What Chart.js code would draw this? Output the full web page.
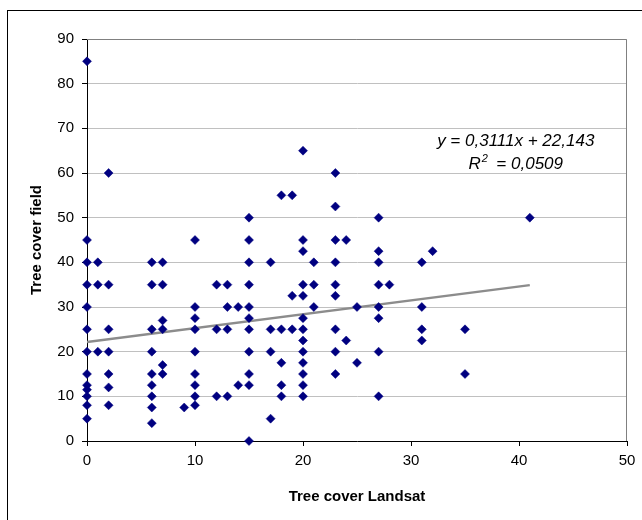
<!DOCTYPE html>
<html lang="en">
<head>
<meta charset="UTF-8">
<title>Tree cover</title>
<script src="https://cdn.jsdelivr.net/npm/chart.js@4.4.0/dist/chart.umd.min.js"></script>
<style>
  html, body { margin: 0; padding: 0; background: #fff; }
  #wrap { width: 642px; height: 520px; }
</style>
</head>
<body>
<div id="wrap"><canvas id="myChart" width="642" height="520"></canvas></div>
<script>
// Tree cover Landsat (x) vs Tree cover field (y)
const landsat = [
  0, 0, 0, 0, 0, 0, 0, 0, 0, 0, 0, 0, 0,
  1, 1, 1,
  2, 2, 2, 2, 2, 2, 2,
  6, 6, 6, 6, 6, 6, 6, 6, 6,
  7, 7, 7, 7, 7, 7,
  9,
  10, 10, 10, 10, 10, 10, 10, 10, 10,
  12, 12, 12,
  13, 13, 13, 13,
  14, 14,
  15, 15, 15, 15, 15, 15, 15, 15, 15, 15, 15,
  17, 17, 17, 17,
  18, 18, 18, 18, 18,
  19, 19, 19,
  20, 20, 20, 20, 20, 20, 20, 20, 20, 20, 20, 20, 20,
  21, 21, 21,
  23, 23, 23, 23, 23, 23, 23, 23, 23,
  24, 24,
  25, 25,
  27, 27, 27, 27, 27, 27, 27, 27,
  28,
  31, 31, 31, 31,
  32,
  35, 35,
  41
];
const field = [
  85, 45, 40, 35, 30, 25, 20, 15, 12.5, 11.5, 10, 8, 5,
  40, 35, 20,
  60, 35, 25, 20, 15, 12, 8,
  40, 35, 25, 20, 15, 12.5, 10, 7.5, 4,
  40, 35, 27, 25, 17, 15,
  7.5,
  45, 30, 27.5, 25, 20, 15, 12.5, 10, 8,
  35, 25, 10,
  35, 30, 25, 10,
  30, 12.5,
  50, 45, 40, 35, 30, 27.5, 25, 20, 15, 12.5, 0,
  40, 25, 20, 5,
  55, 25, 17.5, 12.5, 10,
  55, 32.5, 25,
  65, 45, 42.5, 35, 32.5, 27.5, 25, 22.5, 20, 17.5, 15, 12.5, 10,
  40, 35, 30,
  60, 52.5, 45, 40, 35, 32.5, 25, 20, 15,
  45, 22.5,
  30, 17.5,
  50, 42.5, 40, 35, 30, 27.5, 20, 10,
  35,
  40, 30, 25, 22.5,
  42.5,
  25, 15,
  50
];
// linear trend from the chart
const trendSlope = 0.3111;
const trendIntercept = 22.143;
const rSquared = '0,0509';
const xTicks = [0, 10, 20, 30, 40, 50];
const yTicks = [0, 10, 20, 30, 40, 50, 60, 70, 80, 90];

const points = landsat.map((x, i) => ({ x: x, y: field[i] }));
const xMin = Math.min(...landsat);
const xMax = Math.max(...landsat);
const trend = [
  { x: xMin, y: trendSlope * xMin + trendIntercept },
  { x: xMax, y: trendSlope * xMax + trendIntercept }
];

const FONT = 'Liberation Sans, Arial, sans-serif';

const frame = {
  id: 'frame',
  beforeDraw(chart) {
    const c = chart.ctx;
    c.save();
    c.fillStyle = '#fff';
    c.fillRect(0, 0, chart.width, chart.height);
    c.strokeStyle = '#000';
    c.lineWidth = 1;
    c.strokeRect(7.5, 10.5, chart.width + 20, chart.height + 20);
    c.restore();
  },
  beforeDatasetsDraw(chart) {
    const a = chart.chartArea;
    const c = chart.ctx;
    c.save();
    c.strokeStyle = '#808080';
    c.lineWidth = 1;
    c.beginPath();
    c.moveTo(a.left, a.top + 0.5);
    c.lineTo(a.right - 0.5, a.top + 0.5);
    c.lineTo(a.right - 0.5, a.bottom);
    c.stroke();
    c.restore();
  },
  afterDatasetsDraw(chart) {
    const xs = chart.scales.x, ys = chart.scales.y;
    const c = chart.ctx;
    const cx = xs.getPixelForValue(39.7);
    const y1 = ys.getPixelForValue(66);
    const y2 = y1 + 23;
    const sign = trendIntercept >= 0 ? ' + ' : ' - ';
    const eq = 'y = ' + String(trendSlope).replace('.', ',') + 'x' + sign +
      String(Math.abs(trendIntercept)).replace('.', ',');
    c.save();
    c.fillStyle = '#000';
    c.textBaseline = 'alphabetic';
    c.font = 'italic 17px ' + FONT;
    c.textAlign = 'center';
    c.fillText(eq, cx, y1);
    // R² line
    const a = 'R', b = '2', rest = '  = ' + rSquared;
    c.font = 'italic 17px ' + FONT;
    const wa = c.measureText(a).width;
    const wr = c.measureText(rest).width;
    c.font = 'italic 11px ' + FONT;
    const wb = c.measureText(b).width;
    let x0 = cx - (wa + wb + wr) / 2;
    c.textAlign = 'left';
    c.font = 'italic 17px ' + FONT;
    c.fillText(a, x0, y2);
    c.font = 'italic 11px ' + FONT;
    c.fillText(b, x0 + wa + 1, y2 - 7);
    c.font = 'italic 17px ' + FONT;
    c.fillText(rest, x0 + wa + wb, y2);
    c.restore();
  }
};

const ctx = document.getElementById('myChart').getContext('2d');
const myChart = new Chart(ctx, {
  type: 'scatter',
  data: {
    datasets: [{
      label: 'Tree cover',
      data: points,
      pointStyle: 'rectRot',
      pointRadius: 4.5,
      pointBackgroundColor: '#000080',
      pointBorderColor: '#000080',
      pointBorderWidth: 0.5,
      showLine: false,
      clip: false,
      order: 1
    }, {
      label: 'Trend',
      data: trend,
      type: 'line',
      borderColor: '#8c8c8c',
      borderWidth: 2.5,
      pointRadius: 0,
      fill: false,
      order: 2
    }]
  },
  options: {
    responsive: false,
    animation: false,
    devicePixelRatio: 1,
    layout: { padding: { left: 0, top: 39, right: 15, bottom: 0 } },
    plugins: {
      legend: { display: false },
      tooltip: { enabled: false }
    },
    scales: {
      x: {
        type: 'linear',
        min: 0,
        max: 50,
        afterBuildTicks: s => { s.ticks = xTicks.map(v => ({ value: v })); },
        afterFit: s => { s.height = 79; },
        border: { color: '#000', width: 1 },
        grid: {
          drawOnChartArea: false,
          drawTicks: true,
          tickLength: 5,
          tickColor: '#000'
        },
        ticks: {
          color: '#000',
          font: { family: FONT, size: 15 },
          padding: 6,
          maxRotation: 0
        },
        title: {
          display: true,
          text: 'Tree cover Landsat',
          color: '#000',
          font: { family: FONT, size: 15, weight: 'bold' },
          padding: { top: 0, bottom: 14 }
        }
      },
      y: {
        type: 'linear',
        min: 0,
        max: 90,
        afterBuildTicks: s => { s.ticks = yTicks.map(v => ({ value: v })); },
        afterFit: s => { s.width = 87; },
        border: { color: '#000', width: 1 },
        grid: {
          color: '#c0c0c0',
          lineWidth: 1,
          drawTicks: true,
          tickLength: 5,
          tickColor: '#000'
        },
        ticks: {
          color: '#000',
          font: { family: FONT, size: 15 },
          padding: 8
        },
        title: {
          display: true,
          text: 'Tree cover field',
          color: '#000',
          font: { family: FONT, size: 15, weight: 'bold' },
          padding: { top: 28, bottom: 0 }
        }
      }
    }
  },
  plugins: [frame]
});
</script>
</body>
</html>
